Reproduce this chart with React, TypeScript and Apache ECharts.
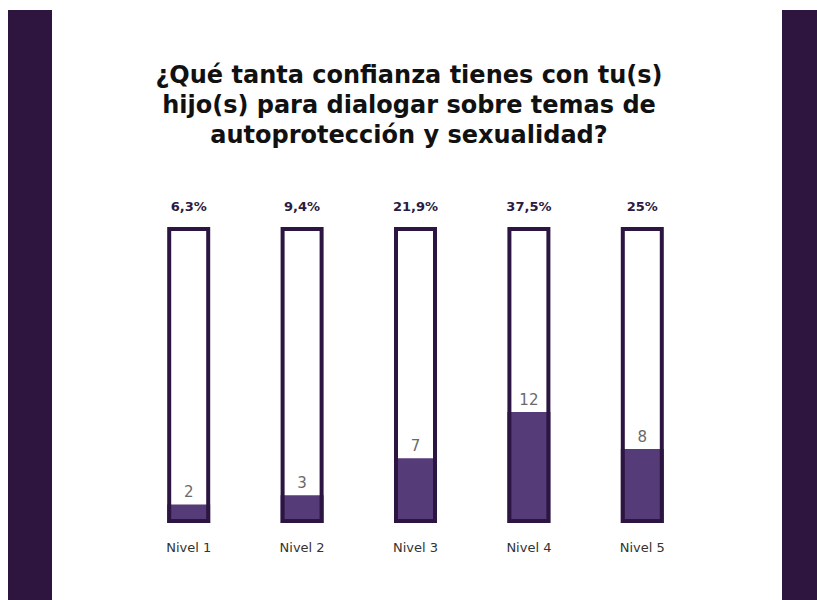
import React, { useEffect, useRef } from "react";
import * as echarts from "echarts";

const levels = ["Nivel 1", "Nivel 2", "Nivel 3", "Nivel 4", "Nivel 5"];
const counts = [2, 3, 7, 12, 8];
const percentLabels = ["6,3%", "9,4%", "21,9%", "37,5%", "25%"];
const totalResponses = 32;

const titleText =
  "¿Qué tanta confianza tienes con tu(s)\nhijo(s) para dialogar sobre temas de\nautoprotección y sexualidad?";

export default function App() {
  const ref = useRef<HTMLDivElement>(null);
  useEffect(() => {
    if (!ref.current) return;
    const chart = echarts.init(ref.current, null, { renderer: "svg" });
    const totals = levels.map(() => totalResponses);
    chart.setOption({
      animation: false,
      backgroundColor: "#ffffff",
      graphic: [
        { type: "rect", shape: { x: 8, y: 10, width: 44, height: 590 }, style: { fill: "#2e1540" } },
        { type: "rect", shape: { x: 782, y: 10, width: 35, height: 590 }, style: { fill: "#2e1540" } },
        {
          type: "text",
          x: 409,
          y: 60,
          style: {
            text: titleText,
            align: "center",
            verticalAlign: "top",
            fontFamily: "DejaVu Sans",
            fontSize: 24,
            fontWeight: "bold",
            lineHeight: 30,
            fill: "#111111",
          },
        },
      ],
      grid: { left: 132, right: 118, top: 227, bottom: 77 },
      xAxis: {
        type: "category",
        data: levels,
        axisLine: { show: false },
        axisTick: { show: false },
        axisLabel: {
          margin: 18,
          fontSize: 13,
          color: "#333333",
          fontFamily: "DejaVu Sans",
        },
      },
      yAxis: { type: "value", min: 0, max: totalResponses, show: false },
      series: [
        {
          type: "bar",
          data: totals,
          barWidth: 43,
          barGap: "-100%",
          itemStyle: { color: "#ffffff" },
          silent: true,
          z: 1,
        },
        {
          type: "bar",
          data: counts,
          barWidth: 43,
          barGap: "-100%",
          itemStyle: { color: "#553b78" },
          label: {
            show: true,
            position: "top",
            distance: 5,
            fontSize: 15,
            color: "#6a6a6a",
            fontFamily: "DejaVu Sans",
            fontWeight: "normal",
          },
          z: 2,
        },
        {
          type: "bar",
          data: totals,
          barWidth: 43,
          barGap: "-100%",
          itemStyle: { color: "rgba(0,0,0,0)", borderColor: "#2c1540", borderWidth: 4 },
          label: {
            show: true,
            position: "top",
            distance: 14,
            fontSize: 13,
            fontWeight: "bold",
            color: "#2c1a40",
            fontFamily: "DejaVu Sans",
            formatter: (p: any) => percentLabels[p.dataIndex],
          },
          z: 3,
        },
      ],
    });
    return () => chart.dispose();
  }, []);
  return (
    <div
      ref={ref}
      style={{ position: "fixed", left: 0, top: 0, width: 817, height: 600 }}
    />
  );
}
